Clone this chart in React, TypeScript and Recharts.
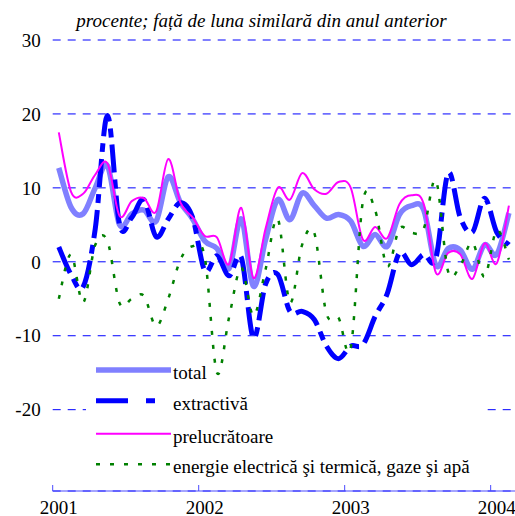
import React from 'react';
import { LineChart, Line, XAxis, YAxis, CartesianGrid, Legend } from 'recharts';

// Monthly data, Jan 2001 .. Feb 2004 (38 months)
const MONTH_INDEX = Array.from({ length: 38 }, (_, i) => i);
const TOTAL = [12.7, 7.4, 6.5, 10.0, 13.0, 5.0, 6.5, 7.0, 5.5, 11.5, 8.0, 5.8, 2.8, 1.8, -0.9, 5.8, -3.3, 3.0, 8.4, 5.7, 9.3, 7.6, 5.9, 6.4, 5.5, 2.1, 3.7, 2.1, 6.4, 7.6, 7.0, -0.5, 1.8, 1.6, -1.0, 2.3, 1.0, 6.6];
const EXTRACTIVA = [2.0, -1.7, -3.4, 4.5, 19.8, 5.0, 6.0, 8.4, 3.4, 5.8, 8.0, 6.0, -1.2, 0.8, -1.9, 0.6, -10.3, -3.0, -1.7, -6.7, -6.7, -7.8, -11.4, -13.1, -11.4, -11.2, -7.4, -4.3, 1.2, -0.4, 1.0, 0.5, 12.0, 6.0, 4.0, 8.6, 4.0, 2.3];
const PRELUCRATOARE = [17.5, 9.5, 9.2, 11.8, 13.3, 6.2, 8.2, 8.6, 6.8, 13.9, 8.0, 6.0, 3.5, 3.3, -0.3, 7.3, -2.2, 4.5, 10.0, 8.4, 12.0, 9.8, 9.2, 10.8, 10.0, 3.0, 4.7, 3.2, 7.8, 9.0, 7.8, -1.5, 1.2, 1.0, -2.3, 2.5, -0.2, 7.6];
const ENERGIE = [-5.0, 1.0, -5.5, 2.3, 2.8, -5.6, -5.0, -4.6, -8.7, -5.0, 0.3, 2.1, 0.6, -15.0, -7.5, -0.8, -7.3, -1.0, 5.8, -5.5, 2.3, 3.9, -7.0, -7.6, -11.6, 8.2, 7.0, -0.6, 4.5, 3.9, 4.5, 11.0, -1.3, -0.5, 2.6, -2.0, 4.3, 0.3];

const Y_TICKS = [-20, -10, 0, 10, 20, 30];
const X_TICKS = [-0.5, 11.5, 23.5, 35.5];
const X_LABELS = ['2001', '2002', '2003', '2004'];
const SERIES_NAMES = ['total', 'extractivă', 'prelucrătoare', 'energie electrică şi termică, gaze şi apă'];
const TITLE = 'procente; față de luna similară din anul anterior';

const data = MONTH_INDEX.map((i) => ({
  i,
  total: TOTAL[i],
  extractiva: EXTRACTIVA[i],
  prelucratoare: PRELUCRATOARE[i],
  energie: ENERGIE[i],
}));

const W = 515;
const H = 516;
const LEFT = 52.7;
const TOP = 40;
const XAXIS_H = 25;
const PLOT_W = W - LEFT;
const HALF_CAT = PLOT_W / 38 / 2;
const FONT = "'Liberation Serif', Tinos, 'Times New Roman', Times, serif";
const AXIS_COLOR = '#4a4aff';

const STYLES = [
  { key: 'total', color: '#8080ff', width: 5.5, dash: undefined as string | undefined },
  { key: 'extractiva', color: '#0000ff', width: 5, dash: '28 7 9 7' },
  { key: 'prelucratoare', color: '#ff00ff', width: 2, dash: undefined },
  { key: 'energie', color: '#008000', width: 2.5, dash: '4 10' },
];

// Excel-like smoothed line (uniform Catmull-Rom through the points)
const excelSmooth: any = (context: any) => {
  let pts: number[][] = [];
  return {
    areaStart() {},
    areaEnd() {},
    lineStart() {
      pts = [];
    },
    point(x: number, y: number) {
      pts.push([+x, +y]);
    },
    lineEnd() {
      const n = pts.length;
      if (!n) return;
      context.moveTo(pts[0][0], pts[0][1]);
      if (n === 1) {
        context.lineTo(pts[0][0], pts[0][1]);
        return;
      }
      for (let k = 0; k < n - 1; k++) {
        const p0 = pts[Math.max(0, k - 1)];
        const p1 = pts[k];
        const p2 = pts[k + 1];
        const p3 = pts[Math.min(n - 1, k + 2)];
        context.bezierCurveTo(
          p1[0] + (p2[0] - p0[0]) / 6,
          p1[1] + (p2[1] - p0[1]) / 6,
          p2[0] - (p3[0] - p1[0]) / 6,
          p2[1] - (p3[1] - p1[1]) / 6,
          p2[0],
          p2[1]
        );
      }
    },
  };
};

const XTick = (props: any) => {
  const { x, y, index } = props;
  return (
    <g>
      <line x1={x} x2={x} y1={y - 6} y2={y} stroke={AXIS_COLOR} strokeWidth={1} />
      <text x={x + HALF_CAT} y={y + 22.5} textAnchor="middle" style={{ fontFamily: FONT }} fontSize={19} fill="#000">
        {X_LABELS[index]}
      </text>
    </g>
  );
};

const LEG_LINE_Y = [14, 44.7, 77.7, 108.3];

const renderLegend = () => (
  <svg width={397} height={124} style={{ display: 'block' }}>
    <rect x={0} y={26} width={397} height={98} fill="#fff" />
    {STYLES.map((s, k) => (
      <g key={s.key}>
        <line
          x1={10}
          x2={85}
          y1={LEG_LINE_Y[k]}
          y2={LEG_LINE_Y[k]}
          stroke={s.color}
          strokeWidth={s.width}
          strokeDasharray={k === 1 ? '32 18 9 18' : s.dash}
        />
        <text x={87} y={LEG_LINE_Y[k] + 8.9} style={{ fontFamily: FONT }} fontSize={19} fill="#000">
          {SERIES_NAMES[k]}
        </text>
      </g>
    ))}
  </svg>
);

export default function App() {
  return (
    <div style={{ position: 'absolute', left: 0, top: 0, width: W, height: H, background: '#fff', fontFamily: FONT }}>
      <LineChart width={W} height={H} data={data} margin={{ top: TOP, right: 0, bottom: 0, left: 0 }} style={{ fontFamily: FONT }}>
        <CartesianGrid horizontal vertical={false} stroke="#0000ff" strokeDasharray="8 7" strokeWidth={1} />
        <XAxis
          type="number"
          dataKey="i"
          domain={[-0.5, 37.5]}
          ticks={X_TICKS}
          interval={0}
          height={XAXIS_H}
          tickSize={0}
          tickMargin={0}
          tickLine={false}
          axisLine={{ stroke: AXIS_COLOR, strokeWidth: 1 }}
          tick={<XTick />}
        />
        <YAxis
          type="number"
          domain={[-31, 30]}
          ticks={Y_TICKS}
          interval={0}
          width={LEFT}
          tickSize={0}
          tickMargin={12}
          tickLine={false}
          axisLine={false}
          tick={{ fill: '#000', fontSize: 19, style: { fontFamily: FONT } }}
        />
        {STYLES.map((s, k) => (
          <Line
            key={s.key}
            dataKey={s.key}
            name={SERIES_NAMES[k]}
            type={excelSmooth}
            stroke={s.color}
            strokeWidth={s.width}
            strokeDasharray={s.dash}
            dot={false}
            activeDot={false}
            isAnimationActive={false}
          />
        ))}
        <Legend
          layout="vertical"
          align="center"
          verticalAlign="middle"
          wrapperStyle={{ position: 'absolute', left: 86, top: 356, width: 397, height: 124 }}
          content={renderLegend}
        />
      </LineChart>
      <svg width={W} height={40} style={{ position: 'absolute', left: 0, top: 0 }}>
        <text x={261.5} y={27} textAnchor="middle" style={{ fontFamily: FONT }} fontStyle="italic" fontSize={19} fill="#000">
          {TITLE}
        </text>
      </svg>
    </div>
  );
}
